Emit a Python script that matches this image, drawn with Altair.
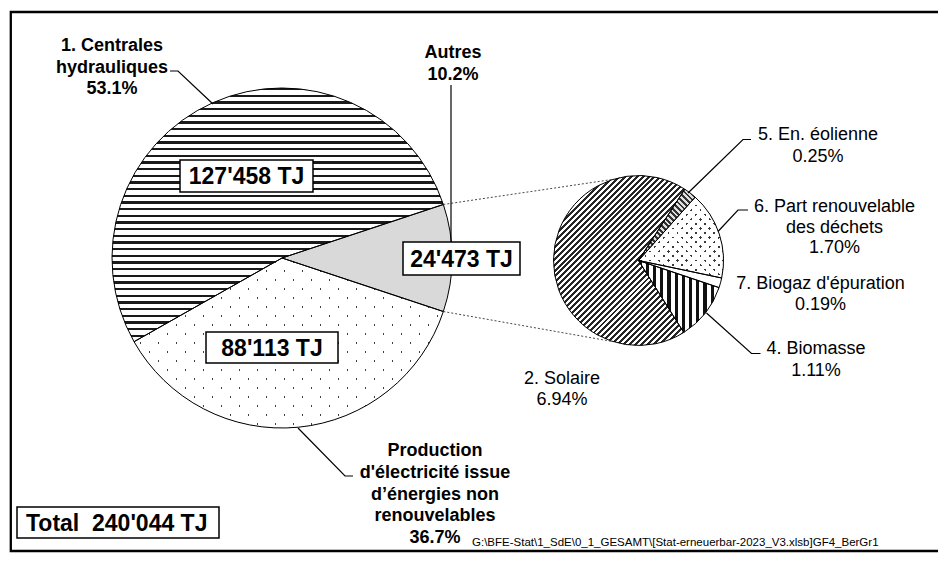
import math
import altair as alt
import pandas as pd

# ---------------- data ----------------
main_categories = ["Autres",
                   "Production d'électricité issue d'énergies non renouvelables",
                   "1. Centrales hydrauliques"]
main_values_tj = [24473, 88113, 127458]
main_label_lines = [["Autres"],
                    ["Production", "d'électricité issue", "d’énergies non", "renouvelables"],
                    ["1. Centrales", "hydrauliques"]]

sub_categories = ["5. En. éolienne", "6. Part renouvelable des déchets",
                  "7. Biogaz d'épuration", "4. Biomasse", "2. Solaire"]
sub_shares_pct = [0.25, 1.70, 0.19, 1.11, 6.94]
sub_label_lines = [["5. En. éolienne"], ["6. Part renouvelable", "des déchets"],
                   ["7. Biogaz d'épuration"], ["4. Biomasse"], ["2. Solaire"]]

footer_text = "G:\\BFE-Stat\\1_SdE\\0_1_GESAMT\\[Stat-erneuerbar-2023_V3.xlsb]GF4_BerGr1"

total_tj = sum(main_values_tj)
sub_total = sum(sub_shares_pct)


def fmt_tj(v):
    return f"{v:,}".replace(",", "'") + " TJ"


# ---------------- layout (screen pixels) ----------------
OFF = 8
W, H = 930, 546
FONT = "Liberation Sans"
MAIN_C, MAIN_R = (282, 258), 170
SUB_C, SUB_R = (638.5, 260.5), 85
MAIN_START = 90 - main_values_tj[0] / total_tj * 180.0
SUB_START = 33.0
LABEL_FS = 18
BOX_FS = 23


def P(x, y):
    return (x - OFF, y - OFF)


def pt_on(c, r, deg):
    a = math.radians(deg)
    return (c[0] + r * math.sin(a), c[1] - r * math.cos(a))


def sector_bbox(r, t0, t1):
    pts = [(0.0, 0.0)]
    for t in (t0, t1):
        a = math.radians(t)
        pts.append((r * math.sin(a), -r * math.cos(a)))
    k = math.ceil(t0 / 90.0) * 90
    while k < t1:
        a = math.radians(k)
        pts.append((r * math.sin(a), -r * math.cos(a)))
        k += 90
    xs = [p[0] for p in pts]
    ys = [p[1] for p in pts]
    return max(xs) - min(xs), max(ys) - min(ys)


def stripes(bw, bh, nx, ny, period, dark_w, dark, light):
    n = math.hypot(nx, ny)
    nx, ny = nx / n, ny / n
    L = abs(nx) * bw + abs(ny) * bh
    S = nx * nx * bw * bw + ny * ny * bh * bh
    k = L / S
    x1 = 0.0 if nx >= 0 else 1.0
    y1 = 0.0 if ny >= 0 else 1.0
    x2 = x1 + k * nx * bw
    y2 = y1 + k * ny * bh
    stops = []
    pos = 0.0
    while pos < L:
        a = pos / L
        b = min((pos + dark_w) / L, 1.0)
        c = min((pos + period) / L, 1.0)
        stops += [(a, dark), (b, dark), (b, light), (c, light)]
        pos += period
    return {"gradient": "linear", "x1": round(x1, 5), "y1": round(y1, 5),
            "x2": round(x2, 5), "y2": round(y2, 5),
            "stops": [{"offset": round(o, 5), "color": col} for o, col in stops]}


CLEAR = "rgba(255,255,255,0)"


def pie_df(cats, vals):
    return pd.DataFrame({"cat": cats, "value": vals, "order": list(range(len(cats)))})


def angles(vals, start):
    tot = sum(vals)
    out, acc = [], start
    for v in vals:
        t0 = acc
        acc += v / tot * 360.0
        out.append((t0, acc))
    return out


def arc_layer(df, total, start_deg, c, r, idx=None, **mark_kw):
    r0 = math.radians(start_deg)
    ch = alt.Chart(df).transform_window(
        cum="sum(value)", sort=[alt.SortField("order")]
    ).transform_calculate(start="datum.cum - datum.value")
    if idx is not None:
        ch = ch.transform_filter(alt.datum.order == idx)
    cx, cy = P(*c)
    return ch.mark_arc(radius=r, **mark_kw).encode(
        theta=alt.Theta("start:Q", stack=None,
                        scale=alt.Scale(domain=[0, total], range=[r0, r0 + 2 * math.pi])),
        theta2="cum:Q",
        x=alt.value(cx), y=alt.value(cy),
    )


def xy_line(rows, **mark_kw):
    return alt.Chart(pd.DataFrame(rows)).mark_line(**mark_kw).encode(
        x=alt.X("x:Q", scale=None, axis=None), y=alt.Y("y:Q", scale=None, axis=None),
        detail="id:N", order="i:Q")


def poly_rows(polys):
    rows = []
    for j, pts in enumerate(polys):
        for i, (x, y) in enumerate(pts):
            px, py = P(x, y)
            rows.append({"id": j, "i": i, "x": px, "y": py})
    return rows


layers = []

# outer frame: left, top and bottom edges (it runs on past the right edge)
frame = [[(990, 12), (10.8, 12), (10.8, 551), (990, 551)]]
layers.append(xy_line(poly_rows(frame), color="black", strokeWidth=2.3, strokeJoin="miter"))

# ---------------- main pie ----------------
mdf = pie_df(main_categories, main_values_tj)
mang = angles(main_values_tj, MAIN_START)

layers.append(arc_layer(mdf, total_tj, MAIN_START, MAIN_C, MAIN_R, 0, fill="#d9d9d9"))
bw, bh = sector_bbox(MAIN_R, *mang[1])
layers.append(arc_layer(mdf, total_tj, MAIN_START, MAIN_C, MAIN_R, 1, fill="#404040"))
layers.append(arc_layer(mdf, total_tj, MAIN_START, MAIN_C, MAIN_R, 1,
                        fill=stripes(bw, bh, 1, 1, 12.73, 2.0, CLEAR, "white")))
layers.append(arc_layer(mdf, total_tj, MAIN_START, MAIN_C, MAIN_R, 1,
                        fill=stripes(bw, bh, 1, -1, 12.73, 2.0, CLEAR, "white")))
bw, bh = sector_bbox(MAIN_R, *mang[2])
layers.append(arc_layer(mdf, total_tj, MAIN_START, MAIN_C, MAIN_R, 2,
                        fill=stripes(bw, bh, 0, 1, 6.67, 2.3, "#1a1a1a", "white")))
layers.append(arc_layer(mdf, total_tj, MAIN_START, MAIN_C, MAIN_R, None,
                        fill="white", fillOpacity=0, stroke="black", strokeWidth=1))

# ---------------- secondary pie ----------------
sdf = pie_df(sub_categories, sub_shares_pct)
sang = angles(sub_shares_pct, SUB_START)
sub_patterns = [
    dict(kind="stripes", n=(1, -1), period=4.0, dark_w=2.0, dark="#333333", light="#e0e0e0"),
    dict(kind="dots", base="#3a3a3a", period=6.5, gap=1.9),
    dict(kind="solid", fill="white"),
    dict(kind="stripes", n=(1, 0), period=7.2, dark_w=3.3, dark="#111111", light="white"),
    dict(kind="stripes", n=(1, 1), period=4.2, dark_w=2.1, dark="#262626", light="white"),
]
for i, pat in enumerate(sub_patterns):
    bw, bh = sector_bbox(SUB_R, *sang[i])
    if pat["kind"] == "solid":
        layers.append(arc_layer(sdf, sub_total, SUB_START, SUB_C, SUB_R, i, fill=pat["fill"]))
    elif pat["kind"] == "stripes":
        layers.append(arc_layer(sdf, sub_total, SUB_START, SUB_C, SUB_R, i,
                                fill=stripes(bw, bh, pat["n"][0], pat["n"][1], pat["period"],
                                             pat["dark_w"], pat["dark"], pat["light"])))
    else:
        layers.append(arc_layer(sdf, sub_total, SUB_START, SUB_C, SUB_R, i, fill=pat["base"]))
        layers.append(arc_layer(sdf, sub_total, SUB_START, SUB_C, SUB_R, i,
                                fill=stripes(bw, bh, 1, 1, pat["period"], pat["gap"], CLEAR, "white")))
        layers.append(arc_layer(sdf, sub_total, SUB_START, SUB_C, SUB_R, i,
                                fill=stripes(bw, bh, 1, -1, pat["period"], pat["gap"], CLEAR, "white")))
layers.append(arc_layer(sdf, sub_total, SUB_START, SUB_C, SUB_R, None,
                        fill="white", fillOpacity=0, stroke="black", strokeWidth=1))

# ---------------- connector lines (dotted) ----------------
a_top, a_bot = mang[0]
conn = []
for ma, sa in [(a_top, -17.3), (a_bot, 197.3)]:
    conn.append([pt_on(MAIN_C, MAIN_R, ma), pt_on(SUB_C, SUB_R, sa)])
layers.append(xy_line(poly_rows(conn), color="#333333", strokeWidth=0.9, strokeDash=[2, 2]))

# ---------------- leader lines ----------------
leaders = [
    [(170, 71), (178, 71), (213, 104)],
    [(451, 85), (451, 242)],
    [(298, 428), (345, 476), (353, 476)],
    [(751, 139.5), (743, 139.5), (688, 193)],
    [(748, 210), (738, 210), (718, 231.5)],
    [(706.5, 313), (751.5, 353.5), (760.5, 353.5)],
]
layers.append(xy_line(poly_rows(leaders), color="black", strokeWidth=1.2))

# ---------------- value boxes ----------------
boxes = [  # x0, y0, x1, y1 for hydro, autres, non-renewable, total
    (180, 160, 313, 192),
    (403, 242, 520, 275),
    (206, 332, 338, 363),
    (17, 507, 219, 538),
]
box_rows = []
for (x0, y0, x1, y1) in boxes:
    a = P(x0, y0)
    b = P(x1, y1)
    box_rows.append({"x": a[0], "y": a[1], "x2": b[0], "y2": b[1]})
layers.append(alt.Chart(pd.DataFrame(box_rows)).mark_rect(
    fill="white", stroke="black", strokeWidth=1.5).encode(
    x=alt.X("x:Q", scale=None, axis=None), x2="x2:Q",
    y=alt.Y("y:Q", scale=None, axis=None), y2="y2:Q"))

# ---------------- texts ----------------
bold_c, reg_c, bold_l, reg_l = [], [], [], []


def add_lines(store, lines, x, y0, lh, fs):
    for k, t in enumerate(lines):
        px, py = P(x, y0 + k * lh)
        store.append({"text": t, "x": px, "y": py, "size": fs})


box_map = {2: boxes[0], 0: boxes[1], 1: boxes[2]}
for idx, (x0, y0, x1, y1) in box_map.items():
    add_lines(bold_c, [fmt_tj(main_values_tj[idx])], (x0 + x1) / 2,
              (y0 + y1) / 2 + BOX_FS * 0.36, 0, BOX_FS)
tx0, ty0, tx1, ty1 = boxes[3]
add_lines(bold_l, ["Total\u00a0 " + fmt_tj(total_tj)], tx0 + 9,
          (ty0 + ty1) / 2 + BOX_FS * 0.36, 0, BOX_FS)

main_label_pos = {2: (112, 51, 21.5), 0: (453, 58, 22.0), 1: (435, 456, 21.75)}
for idx, (x, y0, lh) in main_label_pos.items():
    pct = f"{main_values_tj[idx] / total_tj * 100:.1f}%"
    add_lines(bold_c, main_label_lines[idx] + [pct], x, y0, lh, LABEL_FS)

sub_label_pos = [(818, 140, 21.7), (834.5, 211.7, 20.8), (820.5, 289.3, 20.7),
                 (816, 354, 22.0), (562, 383.5, 21.5)]
for idx, (x, y0, lh) in enumerate(sub_label_pos):
    pct = f"{sub_shares_pct[idx]:.2f}%"
    add_lines(reg_c, sub_label_lines[idx] + [pct], x, y0, lh, LABEL_FS)

# file path note (just above the frame's bottom edge so it stays visible)
add_lines(reg_l, [footer_text], 472, 546, 0, 11.5)


def text_layer(rows, weight, align):
    return alt.Chart(pd.DataFrame(rows)).mark_text(
        font=FONT, fontWeight=weight, align=align, baseline="alphabetic", color="black"
    ).encode(
        x=alt.X("x:Q", scale=None, axis=None), y=alt.Y("y:Q", scale=None, axis=None),
        size=alt.Size("size:Q", scale=None, legend=None), text="text:N")


layers += [text_layer(bold_c, "bold", "center"), text_layer(reg_c, "normal", "center"),
           text_layer(bold_l, "bold", "left"), text_layer(reg_l, "normal", "left")]

chart = alt.layer(*layers).properties(
    width=W, height=H, autosize="none", padding=0, background="white"
).resolve_scale(theta="independent").configure_view(stroke=None)

chart.save("out.html", embed_options={"renderer": "svg", "actions": False})
